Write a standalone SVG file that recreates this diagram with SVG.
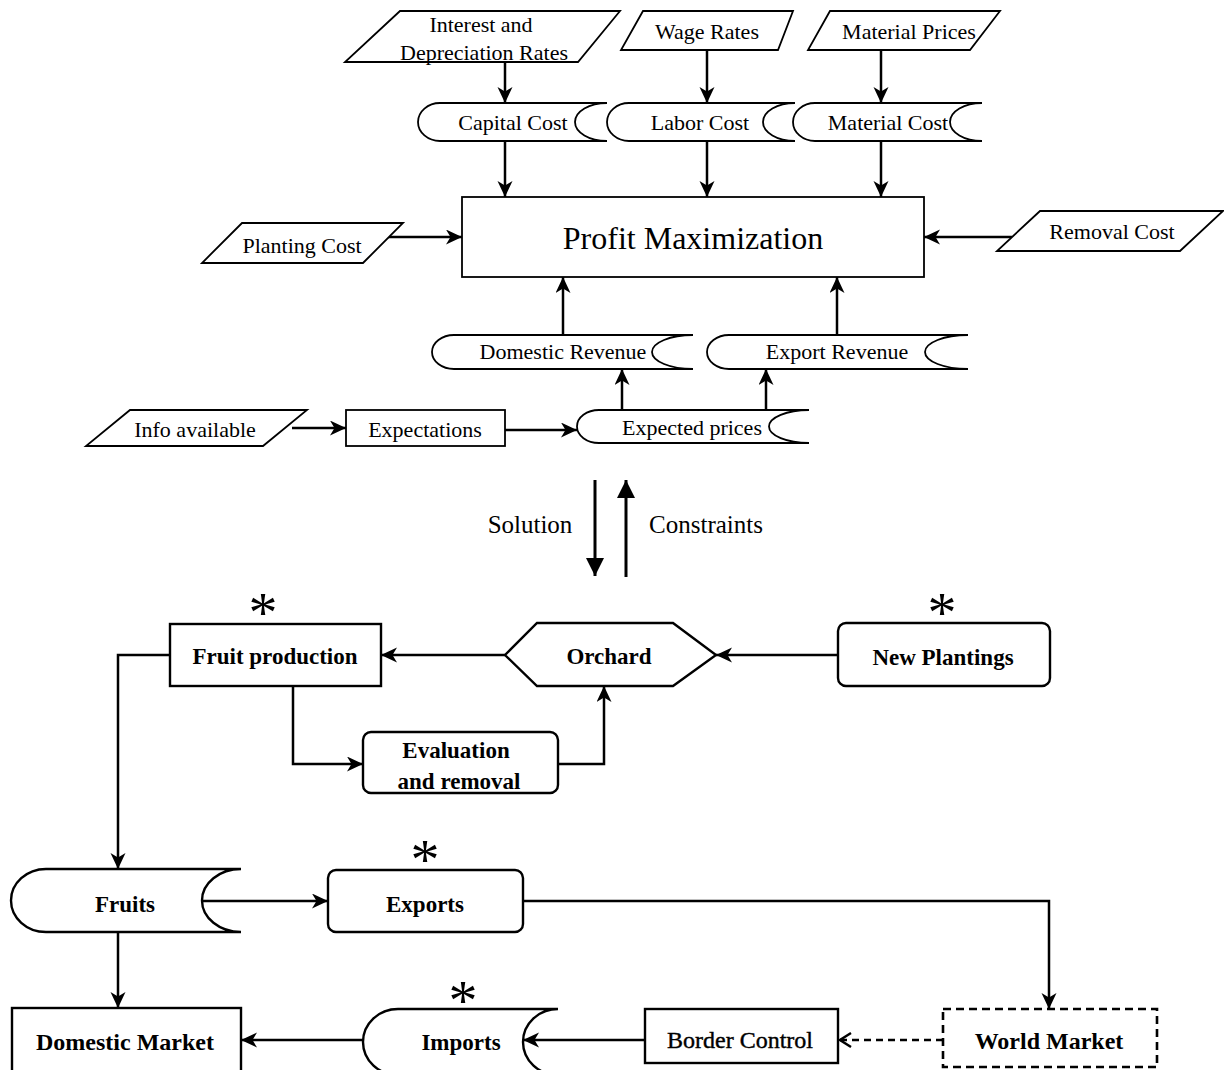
<svg xmlns="http://www.w3.org/2000/svg" width="1224" height="1070" viewBox="0 0 1224 1070">
<defs>
<style>
.t{font-family:"Liberation Serif","Times New Roman",serif;font-size:22px;fill:#000;text-anchor:middle}
.b{font-family:"Liberation Serif","Times New Roman",serif;font-size:23px;font-weight:bold;fill:#000;text-anchor:middle}
.big{font-family:"Liberation Serif","Times New Roman",serif;font-size:32px;fill:#000;text-anchor:middle}
.lab{font-family:"Liberation Serif","Times New Roman",serif;font-size:25px;fill:#000;text-anchor:middle}
.ast{font-family:"Liberation Serif","Times New Roman",serif;font-size:58px;fill:#000;text-anchor:middle}
.s{fill:#fff;stroke:#000;stroke-width:1.8}
.sb{fill:#fff;stroke:#000;stroke-width:2.4}
.c{fill:none;stroke:#000;stroke-width:2.5}
</style>
<marker id="a" markerUnits="userSpaceOnUse" markerWidth="18" markerHeight="16" refX="16" refY="7.5" orient="auto">
<path d="M0,0 L16,7.5 L0,15 L4.5,7.5 z" fill="#000"/>
</marker>
<marker id="o" markerUnits="userSpaceOnUse" markerWidth="14" markerHeight="18" refX="12" refY="8" orient="auto">
<path d="M1,1 L12,8 L1,15" fill="none" stroke="#000" stroke-width="2.4"/>
</marker>
<marker id="big" markerUnits="userSpaceOnUse" markerWidth="20" markerHeight="20" refX="18" refY="9" orient="auto">
<path d="M0,0 L18,9 L0,18 z" fill="#000"/>
</marker>
</defs>

<g id="connectors">
<line class="c" x1="505" y1="62" x2="505" y2="103" marker-end="url(#a)"/>
<line class="c" x1="707" y1="50" x2="707" y2="103" marker-end="url(#a)"/>
<line class="c" x1="881" y1="50" x2="881" y2="103" marker-end="url(#a)"/>
<line class="c" x1="505" y1="141" x2="505" y2="197" marker-end="url(#a)"/>
<line class="c" x1="707" y1="141" x2="707" y2="197" marker-end="url(#a)"/>
<line class="c" x1="881" y1="141" x2="881" y2="197" marker-end="url(#a)"/>
<line class="c" x1="388" y1="237" x2="462" y2="237" marker-end="url(#a)"/>
<line class="c" x1="1012" y1="237" x2="924" y2="237" marker-end="url(#a)"/>
<line class="c" x1="563" y1="335" x2="563" y2="277" marker-end="url(#a)"/>
<line class="c" x1="837" y1="335" x2="837" y2="277" marker-end="url(#a)"/>
<line class="c" x1="622" y1="410" x2="622" y2="369" marker-end="url(#a)"/>
<line class="c" x1="766" y1="410" x2="766" y2="369" marker-end="url(#a)"/>
<line class="c" x1="292" y1="428" x2="346" y2="428" marker-end="url(#a)"/>
<line class="c" x1="505" y1="430" x2="577" y2="430" marker-end="url(#a)"/>
<line x1="595" y1="480" x2="595" y2="576" stroke="#000" stroke-width="3" marker-end="url(#big)"/>
<line x1="626" y1="577" x2="626" y2="480" stroke="#000" stroke-width="3" marker-end="url(#big)"/>
<line class="c" x1="505" y1="655" x2="381" y2="655" marker-end="url(#a)"/>
<line class="c" x1="838" y1="655" x2="716" y2="655" marker-end="url(#a)"/>
<polyline class="c" points="293,686 293,764 363,764" marker-end="url(#a)"/>
<polyline class="c" points="558,764 604,764 604,686" marker-end="url(#a)"/>
<polyline class="c" points="170,655 118,655 118,869" marker-end="url(#a)"/>
<line class="c" x1="202" y1="901" x2="328" y2="901" marker-end="url(#a)"/>
<polyline class="c" points="523,901 1049,901 1049,1009" marker-end="url(#a)"/>
<line class="c" x1="118" y1="932" x2="118" y2="1008" marker-end="url(#a)"/>
<line class="c" x1="943" y1="1040" x2="840" y2="1040" stroke-dasharray="7,5" marker-end="url(#o)"/>
<line class="c" x1="645" y1="1040" x2="523" y2="1040" marker-end="url(#a)"/>
<line class="c" x1="363" y1="1040" x2="241" y2="1040" marker-end="url(#a)"/>
</g>

<g id="interest-rates">
<polygon class="s" points="400,11 620,11 578,62 345,62"/>
<text class="t" x="481" y="32">Interest and</text>
<text class="t" x="484" y="60">Depreciation Rates</text>
</g>
<g id="wage-rates">
<polygon class="s" points="643,11 793,11 778,50 621,50"/>
<text class="t" x="707" y="39">Wage Rates</text>
</g>
<g id="material-prices">
<polygon class="s" points="830,11 1000,11 970,50 808,50"/>
<text class="t" x="909" y="39">Material Prices</text>
</g>

<g id="capital-cost">
<path class="s" d="M440,103 L607,103 A32,19 0 0 0 607,141 L440,141 A22,19 0 0 1 440,103 Z"/>
<text class="t" x="513" y="130">Capital Cost</text>
</g>
<g id="labor-cost">
<path class="s" d="M629,103 L795,103 A32,19 0 0 0 795,141 L629,141 A22,19 0 0 1 629,103 Z"/>
<text class="t" x="700" y="130">Labor Cost</text>
</g>
<g id="material-cost">
<path class="s" d="M815,103 L982,103 A32,19 0 0 0 982,141 L815,141 A22,19 0 0 1 815,103 Z"/>
<text class="t" x="888" y="130">Material Cost</text>
</g>

<g id="profit-maximization">
<rect class="s" x="462" y="197" width="462" height="80"/>
<text class="big" x="693" y="249">Profit Maximization</text>
</g>
<g id="planting-cost">
<polygon class="s" points="242,223 403,223 363,263 202,263"/>
<text class="t" x="302" y="253">Planting Cost</text>
</g>
<g id="removal-cost">
<polygon class="s" points="1040,211 1223,211 1180,251 997,251"/>
<text class="t" x="1112" y="239">Removal Cost</text>
</g>

<g id="domestic-revenue">
<path class="s" d="M454,335 L693,335 A41,17 0 0 0 693,369 L454,369 A22,17 0 0 1 454,335 Z"/>
<text class="t" x="563" y="359">Domestic Revenue</text>
</g>
<g id="export-revenue">
<path class="s" d="M729,335 L968,335 A43,17 0 0 0 968,369 L729,369 A22,17 0 0 1 729,335 Z"/>
<text class="t" x="837" y="359">Export Revenue</text>
</g>
<g id="info-available">
<polygon class="s" points="130,410 307,410 263,446 86,446"/>
<text class="t" x="195" y="437">Info available</text>
</g>
<g id="expectations">
<rect class="s" x="346" y="410" width="159" height="36"/>
<text class="t" x="425" y="437">Expectations</text>
</g>
<g id="expected-prices">
<path class="s" d="M599,410 L809,410 A40,16.5 0 0 0 809,443 L599,443 A22,16.5 0 0 1 599,410 Z"/>
<text class="t" x="692" y="435">Expected prices</text>
</g>

<g id="solution-label"><text class="lab" x="530" y="533">Solution</text></g>
<g id="constraints-label"><text class="lab" x="706" y="533">Constraints</text></g>

<g id="fruit-production">
<rect class="sb" x="170" y="624" width="211" height="62"/>
<text class="b" x="275" y="664">Fruit production</text>
<text class="ast" x="263" y="632">*</text>
</g>
<g id="orchard">
<polygon class="sb" points="505,655 537,623 673,623 716,655 673,686 537,686"/>
<text class="b" x="609" y="664">Orchard</text>
</g>
<g id="new-plantings">
<rect class="sb" x="838" y="623" width="212" height="63" rx="8"/>
<text class="b" x="943" y="665">New Plantings</text>
<text class="ast" x="942" y="632">*</text>
</g>
<g id="evaluation-removal">
<rect class="sb" x="363" y="732" width="195" height="61" rx="8"/>
<text class="b" x="456" y="758">Evaluation</text>
<text class="b" x="459" y="789">and removal</text>
</g>

<g id="fruits">
<path class="sb" d="M46,869 L241,869 A39,31.5 0 0 0 241,932 L46,932 A35,31.5 0 0 1 46,869 Z"/>
<text class="b" x="125" y="912">Fruits</text>
</g>
<g id="exports">
<rect class="sb" x="328" y="870" width="195" height="62" rx="8"/>
<text class="b" x="425" y="912">Exports</text>
<text class="ast" x="425" y="879">*</text>
</g>
<g id="domestic-market">
<rect class="sb" x="12" y="1008" width="229" height="68"/>
<text class="b" x="125" y="1050" style="font-size:24px">Domestic Market</text>
</g>
<g id="imports">
<path class="sb" d="M398,1009 L558,1009 A35,33 0 0 0 558,1075 L398,1075 A35,33 0 0 1 398,1009 Z"/>
<text class="b" x="461" y="1050">Imports</text>
<text class="ast" x="463" y="1020">*</text>
</g>
<g id="border-control">
<rect class="sb" x="645" y="1009" width="193" height="54"/>
<text class="t" x="740" y="1048" style="font-size:24px;stroke:#000;stroke-width:0.4">Border Control</text>
</g>
<g id="world-market">
<rect x="943" y="1009" width="214" height="58" fill="#fff" stroke="#000" stroke-width="2.6" stroke-dasharray="8,5"/>
<text class="b" x="1049" y="1049" style="font-size:24px">World Market</text>
</g>
</svg>
